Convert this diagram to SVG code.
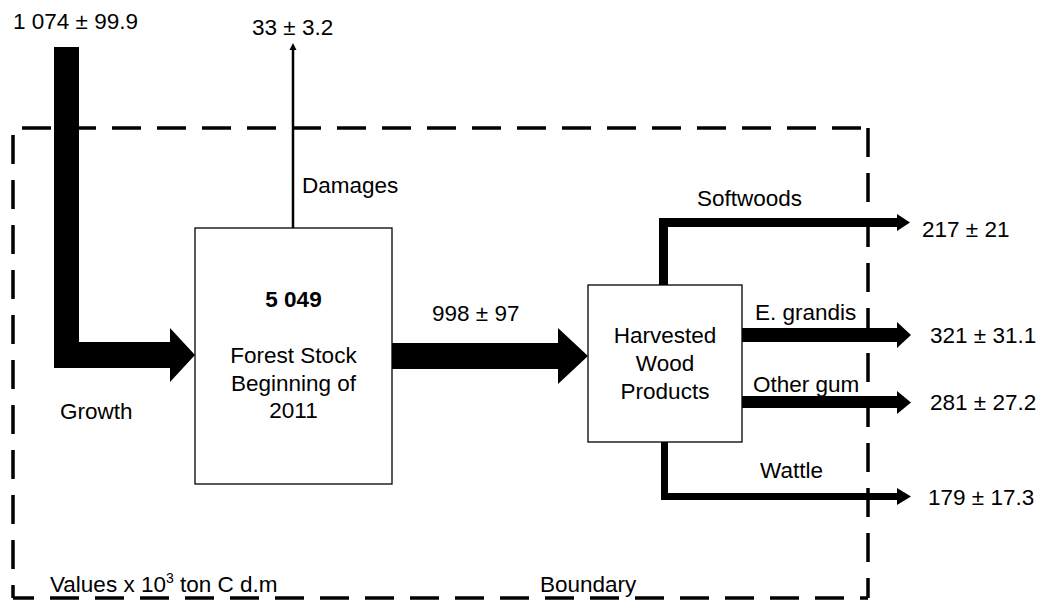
<svg xmlns="http://www.w3.org/2000/svg" width="1046" height="600" viewBox="0 0 1046 600">
  <style>
    text { font-family: "Liberation Sans", Arial, sans-serif; font-size: 22.5px; fill: #000; }
    .mid { text-anchor: middle; }
    .bold { font-weight: bold; }
    .box { fill: #fff; stroke: #000; stroke-width: 1.3; }
    .flow { fill: #000; stroke: none; }
    .edge { fill: none; stroke: #000; stroke-width: 3.5; stroke-dasharray: 29 16; }
  </style>

  <!-- system boundary (dashed) -->
  <g id="boundary">
    <line class="edge" x1="22" y1="128" x2="868" y2="128"/>
    <line class="edge" x1="868" y1="128" x2="868" y2="598"/>
    <line class="edge" x1="13" y1="135" x2="13" y2="598"/>
    <line class="edge" x1="13" y1="598" x2="868" y2="598" stroke-dashoffset="8"/>
    <text x="50" y="592">Values x 10<tspan font-size="14" dy="-9">3</tspan><tspan dy="9"> ton C d.m</tspan></text>
    <text x="540" y="592">Boundary</text>
  </g>

  <!-- flows -->
  <g id="connectors">
    <!-- growth: down then right into the forest stock -->
    <polygon class="flow" points="54,47 79,47 79,342 170,342 170,328 195,355 170,382 170,368 54,368"/>
    <!-- damages: thin outflow upward -->
    <line x1="293" y1="228" x2="293" y2="49" stroke="#000" stroke-width="2.5"/>
    <polygon class="flow" points="289.5,50 293,43 296.5,50"/>
    <!-- harvest: forest stock to harvested wood products -->
    <polygon class="flow" points="392,343 558,343 558,328 588,356 558,384 558,369 392,369"/>
    <!-- softwoods -->
    <polygon class="flow" points="659,285 659,218 897,218 897,214 910,222.5 897,231 897,227 668,227 668,285"/>
    <!-- E. grandis -->
    <polygon class="flow" points="742,328 897,328 897,322 911,335 897,348 897,342 742,342"/>
    <!-- other gum -->
    <polygon class="flow" points="742,396 897,396 897,391 911,402.5 897,414 897,408 742,408"/>
    <!-- wattle -->
    <polygon class="flow" points="661,442 668,442 668,493 897,493 897,488 911,496.5 897,505 897,500 661,500"/>
  </g>

  <g id="forest-stock">
    <rect class="box" x="195" y="228" width="197" height="256"/>
    <text class="mid bold" x="293.5" y="307">5 049</text>
    <text class="mid" x="293.5" y="363">Forest Stock</text>
    <text class="mid" x="293.5" y="391">Beginning of</text>
    <text class="mid" x="293.5" y="418">2011</text>
  </g>

  <g id="harvested-wood-products">
    <rect class="box" x="588" y="285" width="154" height="157"/>
    <text class="mid" x="665" y="343">Harvested</text>
    <text class="mid" x="665" y="371">Wood</text>
    <text class="mid" x="665" y="399">Products</text>
  </g>

  <!-- flow labels and values -->
  <g id="labels">
    <text x="13" y="29">1 074 ± 99.9</text>
    <text x="252" y="35">33 ± 3.2</text>
    <text x="302" y="193">Damages</text>
    <text x="60" y="419">Growth</text>
    <text x="432" y="321">998 ± 97</text>
    <text x="697" y="206">Softwoods</text>
    <text x="922" y="237">217 ± 21</text>
    <text x="755" y="320">E. grandis</text>
    <text x="930" y="343">321 ± 31.1</text>
    <text x="753" y="392">Other gum</text>
    <text x="930" y="410">281 ± 27.2</text>
    <text x="760" y="478">Wattle</text>
    <text x="928" y="505">179 ± 17.3</text>
  </g>
</svg>
